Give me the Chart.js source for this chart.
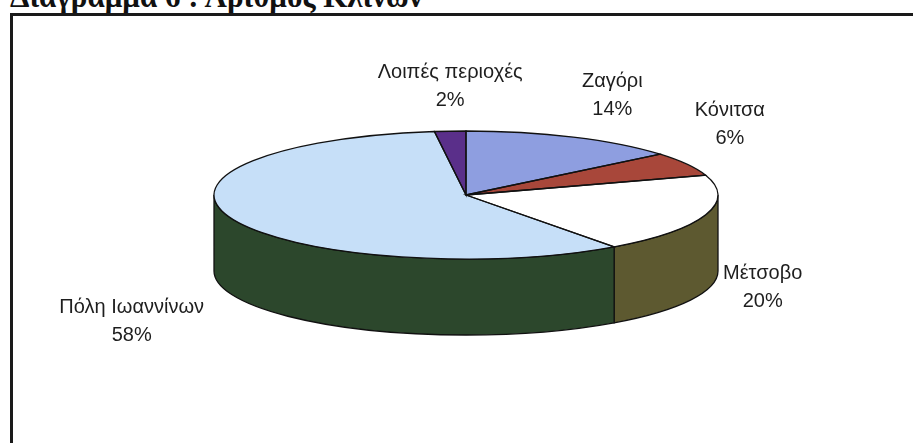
<!DOCTYPE html>
<html>
<head>
<meta charset="utf-8">
<script src="https://cdn.jsdelivr.net/npm/chart.js@4/dist/chart.umd.min.js"></script>
<style>
  html, body { margin: 0; padding: 0; background: #fff; }
  #wrap { position: relative; width: 913px; height: 443px; overflow: hidden; background: #fff; }
  #title { position: absolute; left: 10px; top: -21px; font: bold 31px "Liberation Serif", "Times New Roman", serif; color: #111; white-space: nowrap; }
  #frame { position: absolute; left: 10px; top: 13px; width: 960px; height: 480px; border-left: 3px solid #1a1a1a; border-top: 3px solid #1a1a1a; }
  canvas { position: absolute; left: 0; top: 0; }
</style>
</head>
<body>
<div id="wrap">
  <div id="title">Διάγραμμα 6 : Αριθμός Κλινών</div>
  <div id="frame"></div>
  <canvas id="pie" width="913" height="443"></canvas>
</div>
<script>
const regions = ['Ζαγόρι', 'Κόνιτσα', 'Μέτσοβο', 'Πόλη Ιωαννίνων', 'Λοιπές περιοχές'];
const shares = [14, 6, 20, 58, 2];

const topColors = ['#8e9ee0', '#a8473a', '#ffffff', '#c6dff8', '#5a2f8a'];
const sideColors = ['#5f6aa0', '#6e2d26', '#5d5930', '#2c472c', '#3a1d5c'];

// where the flattened pie sits on the page
const ell = { cx: 466, cy: 195, rx: 252, ry: 64, depth: 76 };
// label shift from the slice's mid point on the rim
const labelShift = [[39, -56], [43, -54], [57, 59], [-100, 89], [0, -59]];

const pie3d = {
  id: 'pie3d',
  beforeDatasetsDraw(chart) {
    const ctx = chart.ctx;
    const { cx, cy, rx, ry, depth } = ell;
    const arcs = chart.getDatasetMeta(0).data;
    // side walls, only the front half shows
    arcs.forEach((arc, i) => {
      const s = arc.startAngle, e = arc.endAngle;
      [[0, Math.PI], [2 * Math.PI, 3 * Math.PI]].forEach(([lo, hi]) => {
        const a1 = Math.max(s, lo), a2 = Math.min(e, hi);
        if (a2 <= a1) return;
        ctx.beginPath();
        ctx.ellipse(cx, cy, rx, ry, 0, a1, a2);
        ctx.ellipse(cx, cy + depth, rx, ry, 0, a2, a1, true);
        ctx.closePath();
        ctx.fillStyle = sideColors[i];
        ctx.fill();
        ctx.strokeStyle = '#111';
        ctx.lineWidth = 1.3;
        ctx.stroke();
      });
    });
    // squash the library's circle into the top ellipse
    const a0 = arcs[0];
    ctx.save();
    ctx.translate(cx, cy);
    ctx.scale(rx / a0.outerRadius, ry / a0.outerRadius);
    ctx.translate(-a0.x, -a0.y);
  },
  afterDatasetsDraw(chart) {
    const ctx = chart.ctx;
    ctx.restore();
    const { cx, cy, rx, ry } = ell;
    const arcs = chart.getDatasetMeta(0).data;
    ctx.strokeStyle = '#111';
    ctx.lineWidth = 1.3;
    arcs.forEach(arc => {
      const s = arc.startAngle, e = arc.endAngle;
      ctx.beginPath();
      ctx.moveTo(cx, cy);
      ctx.lineTo(cx + rx * Math.cos(s), cy + ry * Math.sin(s));
      ctx.ellipse(cx, cy, rx, ry, 0, s, e);
      ctx.closePath();
      ctx.stroke();
    });
    // labels
    ctx.font = '20px "Liberation Sans", Arial, sans-serif';
    ctx.fillStyle = '#1e1e1e';
    ctx.textAlign = 'center';
    ctx.textBaseline = 'middle';
    arcs.forEach((arc, i) => {
      const m = (arc.startAngle + arc.endAngle) / 2;
      const x = cx + rx * Math.cos(m) + labelShift[i][0];
      const y = cy + ry * Math.sin(m) + labelShift[i][1];
      ctx.fillText(regions[i], x, y);
      ctx.fillText(shares[i] + '%', x, y + 28);
    });
  }
};

new Chart(document.getElementById('pie'), {
  type: 'pie',
  data: {
    labels: regions,
    datasets: [{
      data: shares,
      backgroundColor: topColors,
      borderWidth: 0,
      clip: false
    }]
  },
  options: {
    responsive: false,
    animation: false,
    events: [],
    plugins: {
      legend: { display: false },
      tooltip: { enabled: false }
    }
  },
  plugins: [pie3d]
});
</script>
</body>
</html>
